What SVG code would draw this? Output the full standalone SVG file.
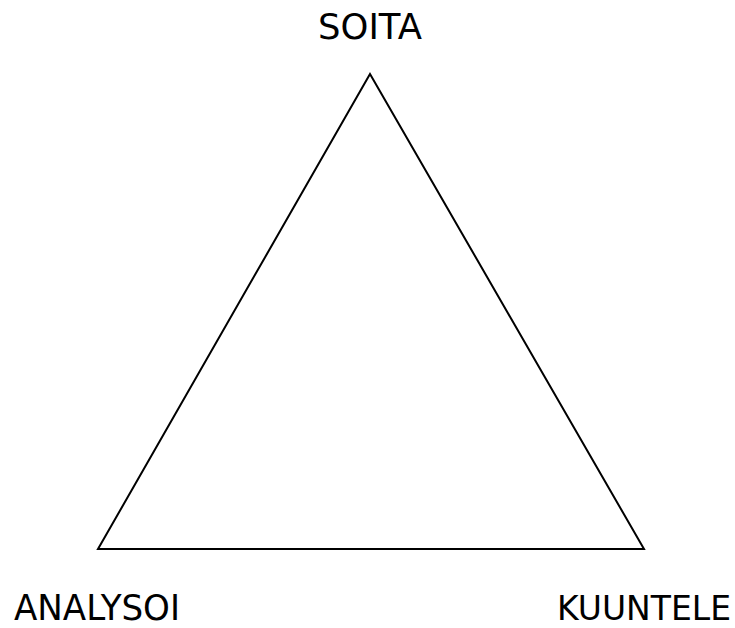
<svg xmlns="http://www.w3.org/2000/svg" width="735" height="628" viewBox="0 0 735 628">
<style>
.lbl{font-family:"DejaVu Sans",sans-serif;font-size:35px;fill:#000}
.edge{fill:none;stroke:#000;stroke-width:2}
</style>
<rect width="735" height="628" fill="#fff"/>
<g id="connectors">
<polygon class="edge" points="370,74 98,549 644,549"/>
</g>
<g id="soita"><text class="lbl" x="318" y="39" textLength="104" lengthAdjust="spacingAndGlyphs">SOITA</text></g>
<g id="analysoi"><text class="lbl" x="14" y="619.5" textLength="166" lengthAdjust="spacingAndGlyphs">ANALYSOI</text></g>
<g id="kuuntele"><text class="lbl" x="557" y="619.5" style="font-size:33px">KUUNTELE</text></g>
</svg>
